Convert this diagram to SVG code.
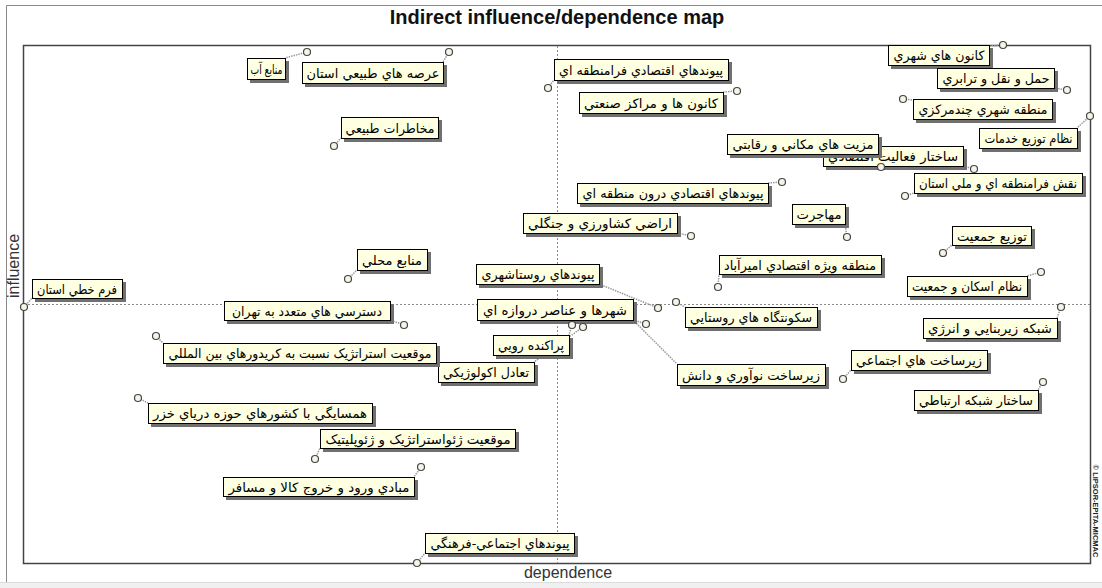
<svg xmlns="http://www.w3.org/2000/svg" width="1102" height="588" viewBox="0 0 1102 588">
<style>
.box{fill:#ffffe1;stroke:#000;stroke-width:1}
.sh{fill:#707070}
.pt{fill:#f4f4e8;stroke:#444;stroke-width:1.2}
.con{stroke:#9a9a9a;stroke-width:1.5;stroke-dasharray:1.5 1;fill:none}
.lbl{font-family:"DejaVu Sans",sans-serif;font-size:13px;fill:#000;text-anchor:middle;direction:rtl}
.mid{stroke:#8a8a8a;stroke-width:1;stroke-dasharray:2 2;fill:none}
.ax{font-family:"Liberation Sans",Arial,sans-serif;font-size:16px;fill:#333}
</style>
<rect x="0" y="0" width="1102" height="588" fill="#fff"/>
<rect x="0" y="582" width="1102" height="6" fill="#f0f0f0"/>
<line x1="0" y1="582.5" x2="1102" y2="582.5" stroke="#dcdcdc"/>
<path d="M6.5,582 V5.5 H1102" fill="none" stroke="#8a8a8a" stroke-width="1"/>
<text x="557" y="24" font-family="Liberation Sans,Arial,sans-serif" font-size="20" font-weight="bold" text-anchor="middle" fill="#111">Indirect influence/dependence map</text>
<rect x="23.5" y="45.5" width="1067" height="518" fill="none" stroke="#444" stroke-width="1.5"/>
<line class="mid" x1="557.5" y1="46" x2="557.5" y2="563"/>
<line class="mid" x1="24" y1="304.5" x2="1090" y2="304.5"/>
<text class="ax" transform="translate(19,266) rotate(-90)" text-anchor="middle">influence</text>
<text class="ax" x="568" y="578" text-anchor="middle">dependence</text>
<text transform="translate(1093,511) rotate(90)" font-family="Liberation Sans,Arial,sans-serif" font-size="7.5" font-weight="bold" text-anchor="middle" fill="#222">© LIPSOR-EPITA-MICMAC</text>

<g id="connectors">
<line class="con" x1="307" y1="52" x2="285" y2="58"/>
<line class="con" x1="449" y1="52" x2="443" y2="62"/>
<line class="con" x1="334" y1="146" x2="341" y2="138"/>
<line class="con" x1="548" y1="88" x2="554" y2="80"/>
<line class="con" x1="737" y1="91" x2="723" y2="92"/>
<line class="con" x1="1003" y1="45" x2="989" y2="46"/>
<line class="con" x1="1067" y1="90" x2="1054" y2="88"/>
<line class="con" x1="903" y1="99" x2="913" y2="100"/>
<line class="con" x1="1090" y1="116" x2="1077" y2="128"/>
<line class="con" x1="881" y1="167" x2="878" y2="154"/>
<line class="con" x1="974" y1="169" x2="963" y2="166"/>
<line class="con" x1="905" y1="196" x2="914" y2="193"/>
<line class="con" x1="782" y1="182" x2="768" y2="183"/>
<line class="con" x1="691" y1="236" x2="677" y2="233"/>
<line class="con" x1="847" y1="237" x2="845" y2="224"/>
<line class="con" x1="943" y1="253" x2="952" y2="245"/>
<line class="con" x1="718" y1="287" x2="719" y2="274"/>
<line class="con" x1="1041" y1="272" x2="1027" y2="276"/>
<line class="con" x1="348" y1="279" x2="357" y2="270"/>
<line class="con" x1="24" y1="307" x2="32" y2="298"/>
<line class="con" x1="658" y1="308" x2="599" y2="284"/>
<line class="con" x1="404" y1="325" x2="390" y2="320"/>
<line class="con" x1="646" y1="324" x2="633" y2="320"/>
<line class="con" x1="631" y1="318" x2="677" y2="364"/>
<line class="con" x1="572" y1="325" x2="569" y2="335"/>
<line class="con" x1="583" y1="327" x2="534" y2="362"/>
<line class="con" x1="676" y1="302" x2="685" y2="307"/>
<line class="con" x1="156" y1="336" x2="163" y2="343"/>
<line class="con" x1="1061" y1="307" x2="1057" y2="318"/>
<line class="con" x1="843" y1="379" x2="851" y2="370"/>
<line class="con" x1="1043" y1="382" x2="1038" y2="390"/>
<line class="con" x1="138" y1="398" x2="148" y2="403"/>
<line class="con" x1="315" y1="459" x2="320" y2="448"/>
<line class="con" x1="421" y1="467" x2="414" y2="477"/>
<line class="con" x1="417" y1="563" x2="425" y2="553"/>
</g>

<g id="n1"><circle class="pt" cx="307" cy="52" r="3.5"/><rect class="sh" x="250" y="61" width="39" height="22"/><rect class="box" x="247.5" y="58.5" width="38" height="21"/><text class="lbl" x="266.5" y="74" textLength="32" lengthAdjust="spacingAndGlyphs">منابع آب</text></g>
<g id="n2"><circle class="pt" cx="449" cy="52" r="3.5"/><rect class="sh" x="305" y="65" width="142" height="22"/><rect class="box" x="302.5" y="62.5" width="141" height="21"/><text class="lbl" x="373" y="78" textLength="133" lengthAdjust="spacingAndGlyphs">عرصه هاي طبيعي استان</text></g>
<g id="n3"><circle class="pt" cx="334" cy="146" r="3.5"/><rect class="sh" x="344" y="120" width="98" height="22"/><rect class="box" x="341.5" y="117.5" width="97" height="21"/><text class="lbl" x="390" y="133" textLength="89" lengthAdjust="spacingAndGlyphs">مخاطرات طبيعي</text></g>
<g id="n4"><circle class="pt" cx="548" cy="88" r="3.5"/><rect class="sh" x="557" y="62" width="175" height="22"/><rect class="box" x="554.5" y="59.5" width="174" height="21"/><text class="lbl" x="641" y="75" textLength="164" lengthAdjust="spacingAndGlyphs">پيوندهاي اقتصادي فرامنطقه اي</text></g>
<g id="n5"><circle class="pt" cx="737" cy="91" r="3.5"/><rect class="sh" x="582" y="95" width="145" height="22"/><rect class="box" x="579.5" y="92.5" width="144" height="21"/><text class="lbl" x="651" y="108" textLength="134" lengthAdjust="spacingAndGlyphs">كانون ها و مراكز صنعتي</text></g>
<g id="n6"><circle class="pt" cx="1003" cy="45" r="3.5"/><rect class="sh" x="891" y="48" width="102" height="21"/><rect class="box" x="888.5" y="45.5" width="101" height="20"/><text class="lbl" x="939" y="60" textLength="91" lengthAdjust="spacingAndGlyphs">كانون هاي شهري</text></g>
<g id="n7"><circle class="pt" cx="1067" cy="90" r="3.5"/><rect class="sh" x="940" y="71" width="118" height="21"/><rect class="box" x="937.5" y="68.5" width="117" height="20"/><text class="lbl" x="996" y="83" textLength="107" lengthAdjust="spacingAndGlyphs">حمل و نقل و ترابري</text></g>
<g id="n8"><circle class="pt" cx="903" cy="99" r="3.5"/><rect class="sh" x="916" y="102" width="140" height="21"/><rect class="box" x="913.5" y="99.5" width="139" height="20"/><text class="lbl" x="983" y="114" textLength="129" lengthAdjust="spacingAndGlyphs">منطقه شهري چندمركزي</text></g>
<g id="n9"><circle class="pt" cx="1090" cy="116" r="3.5"/><rect class="sh" x="982" y="131" width="99" height="21"/><rect class="box" x="979.5" y="128.5" width="98" height="20"/><text class="lbl" x="1028.5" y="143" textLength="88" lengthAdjust="spacingAndGlyphs">نظام توزيع خدمات</text></g>
<g id="n11"><circle class="pt" cx="974" cy="169" r="3.5"/><rect class="sh" x="826" y="149" width="141" height="21"/><rect class="box" x="823.5" y="146.5" width="140" height="20"/><text class="lbl" x="893" y="161" textLength="130" lengthAdjust="spacingAndGlyphs">ساختار فعاليت اقتصادي</text></g>
<g id="n10"><circle class="pt" cx="881" cy="167" r="3.5"/><rect class="sh" x="730" y="137" width="152" height="21"/><rect class="box" x="727.5" y="134.5" width="151" height="20"/><text class="lbl" x="803" y="149" textLength="141" lengthAdjust="spacingAndGlyphs">مزيت هاي مكاني و رقابتي</text></g>
<g id="n12"><circle class="pt" cx="905" cy="196" r="3.5"/><rect class="sh" x="917" y="176" width="169" height="21"/><rect class="box" x="914.5" y="173.5" width="168" height="20"/><text class="lbl" x="998" y="188" textLength="158" lengthAdjust="spacingAndGlyphs">نقش فرامنطقه اي و ملي استان</text></g>
<g id="n13"><circle class="pt" cx="782" cy="182" r="3.5"/><rect class="sh" x="580" y="186" width="192" height="21"/><rect class="box" x="577.5" y="183.5" width="191" height="20"/><text class="lbl" x="673" y="198" textLength="181" lengthAdjust="spacingAndGlyphs">پيوندهاي اقتصادي درون منطقه اي</text></g>
<g id="n14"><circle class="pt" cx="691" cy="236" r="3.5"/><rect class="sh" x="526" y="216" width="155" height="21"/><rect class="box" x="523.5" y="213.5" width="154" height="20"/><text class="lbl" x="600" y="228" textLength="144" lengthAdjust="spacingAndGlyphs">اراضي كشاورزي و جنگلي</text></g>
<g id="n15"><circle class="pt" cx="847" cy="237" r="3.5"/><rect class="sh" x="795" y="207" width="54" height="21"/><rect class="box" x="792.5" y="204.5" width="53" height="20"/><text class="lbl" x="819" y="219" textLength="45" lengthAdjust="spacingAndGlyphs">مهاجرت</text></g>
<g id="n16"><circle class="pt" cx="943" cy="253" r="3.5"/><rect class="sh" x="955" y="229" width="80" height="20"/><rect class="box" x="952.5" y="226.5" width="79" height="19"/><text class="lbl" x="992" y="241" textLength="70" lengthAdjust="spacingAndGlyphs">توزيع جمعيت</text></g>
<g id="n17"><circle class="pt" cx="718" cy="287" r="3.5"/><rect class="sh" x="722" y="258" width="163" height="20"/><rect class="box" x="719.5" y="255.5" width="162" height="19"/><text class="lbl" x="800" y="270" textLength="152" lengthAdjust="spacingAndGlyphs">منطقه ويژه اقتصادي اميرآباد</text></g>
<g id="n18"><circle class="pt" cx="1041" cy="272" r="3.5"/><rect class="sh" x="910" y="279" width="121" height="21"/><rect class="box" x="907.5" y="276.5" width="120" height="20"/><text class="lbl" x="967" y="291" textLength="110" lengthAdjust="spacingAndGlyphs">نظام اسكان و جمعيت</text></g>
<g id="n19"><circle class="pt" cx="348" cy="279" r="3.5"/><rect class="sh" x="360" y="252" width="71" height="22"/><rect class="box" x="357.5" y="249.5" width="70" height="21"/><text class="lbl" x="392" y="265" textLength="60" lengthAdjust="spacingAndGlyphs">منابع محلي</text></g>
<g id="n20"><circle class="pt" cx="24" cy="307" r="3.5"/><rect class="sh" x="35" y="282" width="91" height="20"/><rect class="box" x="32.5" y="279.5" width="90" height="19"/><text class="lbl" x="77" y="294" textLength="80" lengthAdjust="spacingAndGlyphs">فرم خطي استان</text></g>
<g id="n21"><circle class="pt" cx="658" cy="308" r="3.5"/><rect class="sh" x="479" y="267" width="124" height="21"/><rect class="box" x="476.5" y="264.5" width="123" height="20"/><text class="lbl" x="538" y="279" textLength="113" lengthAdjust="spacingAndGlyphs">پيوندهاي روستاشهري</text></g>
<g id="n22"><circle class="pt" cx="404" cy="325" r="3.5"/><rect class="sh" x="227" y="304" width="167" height="20"/><rect class="box" x="224.5" y="301.5" width="166" height="19"/><text class="lbl" x="307" y="316" textLength="150" lengthAdjust="spacingAndGlyphs">دسترسي هاي متعدد به تهران</text></g>
<g id="n24"><circle class="pt" cx="631" cy="318" r="3.5"/><rect class="sh" x="680" y="367" width="149" height="22"/><rect class="box" x="677.5" y="364.5" width="148" height="21"/><text class="lbl" x="751" y="380" textLength="138" lengthAdjust="spacingAndGlyphs">زيرساخت نوآوري و دانش</text></g>
<g id="n23"><circle class="pt" cx="646" cy="324" r="3.5"/><rect class="sh" x="480" y="302" width="157" height="22"/><rect class="box" x="477.5" y="299.5" width="156" height="21"/><text class="lbl" x="555" y="315" textLength="144" lengthAdjust="spacingAndGlyphs">شهرها و عناصر دروازه اي</text></g>
<g id="n27"><circle class="pt" cx="676" cy="302" r="3.5"/><rect class="sh" x="688" y="310" width="133" height="21"/><rect class="box" x="685.5" y="307.5" width="132" height="20"/><text class="lbl" x="751" y="322" textLength="122" lengthAdjust="spacingAndGlyphs">سكونتگاه هاي روستايي</text></g>
<g id="n26"><circle class="pt" cx="583" cy="327" r="3.5"/><rect class="sh" x="441" y="365" width="97" height="21"/><rect class="box" x="438.5" y="362.5" width="96" height="20"/><text class="lbl" x="486" y="377" textLength="86" lengthAdjust="spacingAndGlyphs">تعادل اكولوژيكي</text></g>
<g id="n25"><circle class="pt" cx="572" cy="325" r="3.5"/><rect class="sh" x="496" y="338" width="77" height="21"/><rect class="box" x="493.5" y="335.5" width="76" height="20"/><text class="lbl" x="531" y="350" textLength="66" lengthAdjust="spacingAndGlyphs">پراكنده رويي</text></g>
<g id="n28"><circle class="pt" cx="156" cy="336" r="3.5"/><rect class="sh" x="166" y="346" width="274" height="21"/><rect class="box" x="163.5" y="343.5" width="273" height="20"/><text class="lbl" x="300" y="358" textLength="263" lengthAdjust="spacingAndGlyphs">موقعيت استراتژيک نسبت به كريدورهاي بين المللي</text></g>
<g id="n29"><circle class="pt" cx="1061" cy="307" r="3.5"/><rect class="sh" x="926" y="321" width="135" height="21"/><rect class="box" x="923.5" y="318.5" width="134" height="20"/><text class="lbl" x="990" y="333" textLength="124" lengthAdjust="spacingAndGlyphs">شبکه زيربنايي و انرژي</text></g>
<g id="n30"><circle class="pt" cx="843" cy="379" r="3.5"/><rect class="sh" x="854" y="353" width="137" height="21"/><rect class="box" x="851.5" y="350.5" width="136" height="20"/><text class="lbl" x="919" y="365" textLength="126" lengthAdjust="spacingAndGlyphs">زيرساخت هاي اجتماعي</text></g>
<g id="n31"><circle class="pt" cx="1043" cy="382" r="3.5"/><rect class="sh" x="917" y="393" width="125" height="21"/><rect class="box" x="914.5" y="390.5" width="124" height="20"/><text class="lbl" x="976" y="405" textLength="114" lengthAdjust="spacingAndGlyphs">ساختار شبکه ارتباطي</text></g>
<g id="n32"><circle class="pt" cx="138" cy="398" r="3.5"/><rect class="sh" x="151" y="406" width="225" height="21"/><rect class="box" x="148.5" y="403.5" width="224" height="20"/><text class="lbl" x="260" y="418" textLength="214" lengthAdjust="spacingAndGlyphs">همسايگي با كشورهاي حوزه درياي خزر</text></g>
<g id="n33"><circle class="pt" cx="315" cy="459" r="3.5"/><rect class="sh" x="323" y="432" width="196" height="20"/><rect class="box" x="320.5" y="429.5" width="195" height="19"/><text class="lbl" x="418" y="444" textLength="185" lengthAdjust="spacingAndGlyphs">موقعيت ژئواستراتژيک و ژئوپليتيک</text></g>
<g id="n34"><circle class="pt" cx="421" cy="467" r="3.5"/><rect class="sh" x="226" y="480" width="192" height="20"/><rect class="box" x="223.5" y="477.5" width="191" height="19"/><text class="lbl" x="319" y="492" textLength="181" lengthAdjust="spacingAndGlyphs">مبادي ورود و خروج كالا و مسافر</text></g>
<g id="n35"><circle class="pt" cx="417" cy="563" r="3.5"/><rect class="sh" x="428" y="536" width="150" height="21"/><rect class="box" x="425.5" y="533.5" width="149" height="20"/><text class="lbl" x="500" y="548" textLength="139" lengthAdjust="spacingAndGlyphs">پيوندهاي اجتماعي-فرهنگي</text></g>
</svg>
